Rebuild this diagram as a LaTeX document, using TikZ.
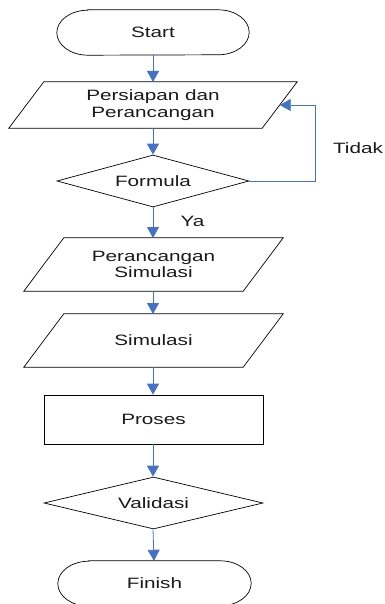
\documentclass[tikz,border=0pt]{standalone}
\usepackage{fontspec}
\setmainfont{Liberation Sans}[FakeStretch=1.38]
\usetikzlibrary{shapes.geometric,arrows.meta}
\definecolor{arrowblue}{RGB}{68,114,196}
\begin{document}
\begin{tikzpicture}[x=1pt,y=-1pt,
  every node/.style={font=\fontsize{15}{16.7}\selectfont, text=black!90, align=center, inner sep=0pt},
  box/.style={draw=none, minimum height=#1},
  outline/.style={draw=black, line width=0.7pt},
  term/.style={draw=none, rectangle, minimum width=192pt, minimum height=45pt},
  decision/.style={outline, diamond, aspect=3},
  procbox/.style={outline, rectangle},
  flow/.style={draw=arrowblue, line width=0.8pt, -{Triangle[width=12pt,length=11pt]}}
]
\useasboundingbox (0,0) rectangle (384,604);
\clip (0,0) rectangle (384,604);

% Start
\node[term] (start) at (153,32.5) {Start};
\draw[outline] ([xshift=31pt]start.north west) -- ([xshift=-31pt]start.north east)
  arc[start angle=90, end angle=-90, x radius=31pt, y radius=22.5pt]
  -- ([xshift=31pt]start.south west)
  arc[start angle=270, end angle=90, x radius=31pt, y radius=22.5pt] -- cycle;

% Persiapan dan Perancangan (parallelogram)
\node[box=46pt, minimum width=288pt] (p1) at (153,105) {Persiapan dan\\Perancangan};
\draw[outline] (p1.south west) -- ([xshift=-35pt]p1.south east) -- (p1.north east) -- ([xshift=35pt]p1.north west) -- cycle;
\coordinate (p1r) at ([xshift=-17.5pt]p1.east);

% Formula
\node[decision, minimum width=192pt, minimum height=52pt] (formula) at (153,181) {Formula};

% Perancangan Simulasi
\node[box=53pt, minimum width=259pt] (p2) at (153.5,264.5) {Perancangan\\Simulasi};
\draw[outline] (p2.south west) -- ([xshift=-40pt]p2.south east) -- (p2.north east) -- ([xshift=40pt]p2.north west) -- cycle;

% Simulasi
\node[box=53pt, minimum width=259pt] (p3) at (153.5,340.5) {Simulasi};
\draw[outline] (p3.south west) -- ([xshift=-40pt]p3.south east) -- (p3.north east) -- ([xshift=40pt]p3.north west) -- cycle;

% Proses
\node[procbox, minimum width=219pt, minimum height=49pt] (proses) at (153.5,419.5) {Proses};

% Validasi
\node[decision, minimum width=219pt, minimum height=52pt] (validasi) at (153.5,503) {Validasi};

% Finish
\node[term, minimum width=193pt] (finish) at (154.5,583.5) {Finish};
\draw[outline] ([xshift=31pt]finish.north west) -- ([xshift=-31pt]finish.north east)
  arc[start angle=90, end angle=-90, x radius=31pt, y radius=22.5pt]
  -- ([xshift=31pt]finish.south west)
  arc[start angle=270, end angle=90, x radius=31pt, y radius=22.5pt] -- cycle;

% Connectors
\draw[flow] (start.south) -- (153,82);
\draw[flow] (153,128) -- (formula.north);
\draw[flow] (formula.south) -- (153,238);
\draw[flow] (153,291) -- (153,314);
\draw[flow] (153,367) -- (proses.north -| 153,0);
\draw[flow] (proses.south -| 153,0) -- (validasi.north -| 153,0);
\draw[flow] (validasi.south -| 153,0) -- (finish.north -| 154,0);
\draw[flow] (formula.east) -- ++(66,0) |- (p1r);

% Labels
\node (tidak) at (358,148) {Tidak};
\node (ya) at (192.5,221) {Ya};
\end{tikzpicture}
\end{document}
